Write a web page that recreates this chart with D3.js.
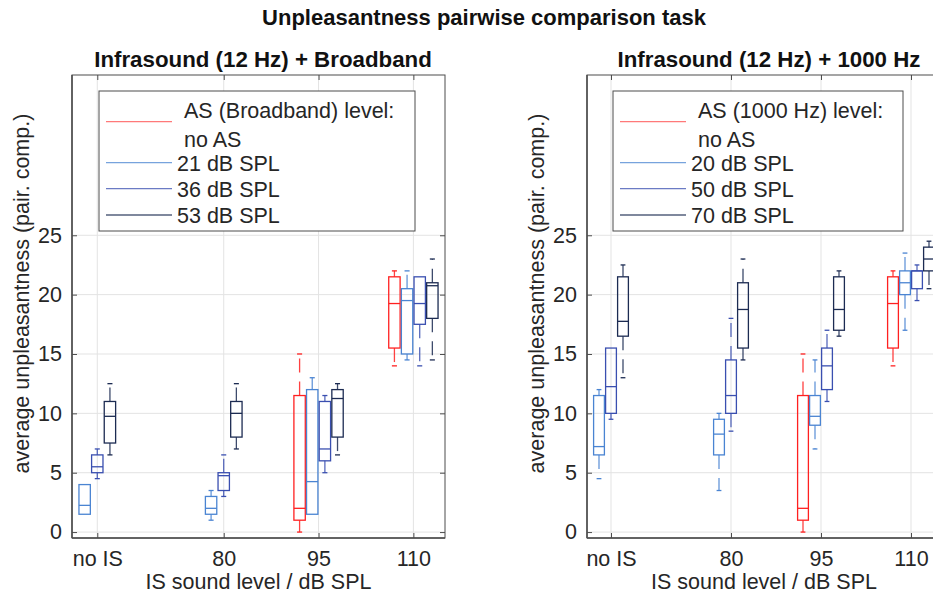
<!DOCTYPE html>
<html>
<head>
<meta charset="utf-8">
<script src="https://cdn.jsdelivr.net/npm/d3@7"></script>
<style>
  body { margin: 0; background: #fff; }
  svg { display: block; font-family: "Liberation Sans", Arial, sans-serif; }
</style>
</head>
<body>
<svg id="chart" width="933" height="597"></svg>
<script>
// categories on the x axis (IS level, "no IS" placed at 60 dB)
var categories = ["no IS", "80", "95", "110"];
var categoryLevels = [60, 80, 95, 110];
var yTicks = [0, 5, 10, 15, 20, 25];

// box stats per category: [min, q1, median, q3, max], null = not measured
var leftNames = ["no AS", "21 dB SPL", "36 dB SPL", "53 dB SPL"];
var leftNoAS = [null, null, [0, 1, 2, 11.5, 15], [14, 15.5, 19.25, 21.5, 22]];
var left21 = [[1.5, 1.5, 2.25, 4, 4], [1, 1.5, 2, 3, 3.5], [1.5, 1.5, 4.25, 12, 13], [14.5, 15, 19.5, 20.5, 22]];
var left36 = [[4.5, 5, 5.5, 6.5, 7], [3, 3.5, 4.75, 5, 6.5], [5, 6, 7, 11, 11.5], [14, 17.5, 19.25, 21.5, 21.5]];
var left53 = [[6.5, 7.5, 9.75, 11, 12.5], [7, 8, 10, 11, 12.5], [6.5, 8, 11.25, 12, 12.5], [14.5, 18, 20.75, 21, 23]];

var rightNames = ["no AS", "20 dB SPL", "50 dB SPL", "70 dB SPL"];
var rightNoAS = [null, null, [0, 1, 2, 11.5, 15], [14, 15.5, 19.25, 21.5, 22]];
var right20 = [[4.5, 6.5, 7.2, 11.5, 12], [3.5, 6.5, 8.25, 9.5, 10], [7, 9, 9.75, 11.5, 14.5], [17, 20, 21, 22, 23.5]];
var right50 = [[9.5, 10, 12.25, 15.5, 15.5], [8.5, 10, 11.5, 14.5, 18], [11, 12, 14, 15.5, 17], [19.5, 20.5, 22, 22, 22.5]];
var right70 = [[13, 16.5, 17.75, 21.5, 22.5], [14.5, 15.5, 18.75, 21, 23], [16.5, 17, 18.75, 21.5, 22], [20.5, 22, 23, 24, 24.5]];

var colors = ["#ff2020", "#4a84d2", "#3a4fb0", "#1c2b52"];
var textColor = "#262626";
var fs = 21.5;

var svg = d3.select("#chart");

svg.append("text")
  .attr("x", 484).attr("y", 25)
  .attr("text-anchor", "middle")
  .attr("font-weight", "bold")
  .attr("font-size", 22)
  .attr("fill", "#111")
  .text("Unpleasantness pairwise comparison task");

function drawPanel(p) {
  var x = d3.scaleLinear().domain([56, 115]).range([p.left, p.right]);
  var y = d3.scaleLinear().domain([-0.5, 38.5]).range([p.bottom, p.top]);
  var g = svg.append("g");

  g.append("defs").append("clipPath").attr("id", p.id)
    .append("rect")
    .attr("x", p.left).attr("y", p.top)
    .attr("width", p.right - p.left).attr("height", p.bottom - p.top);

  // grid
  g.selectAll(".gx").data(categoryLevels).join("line")
    .attr("x1", d => x(d)).attr("x2", d => x(d))
    .attr("y1", p.top).attr("y2", p.bottom)
    .attr("stroke", "#e3e3e3");
  g.selectAll(".gy").data(yTicks).join("line")
    .attr("x1", p.left).attr("x2", p.right)
    .attr("y1", d => y(d)).attr("y2", d => y(d))
    .attr("stroke", "#e3e3e3");

  // boxes
  var plot = g.append("g").attr("clip-path", "url(#" + p.id + ")");
  categories.forEach(function(c, ci) {
    var present = p.series.map((s, si) => ({ stats: s[ci], si: si })).filter(d => d.stats);
    present.forEach(function(d, k) {
      var cx = categoryLevels[ci] + (k - (present.length - 1) / 2) * 2;
      var s = d.stats, col = colors[d.si];
      var b = plot.append("g").attr("stroke", col).attr("fill", "none").attr("stroke-width", 1.3);
      // whiskers, dashed like MATLAB
      if (s[4] > s[3]) {
        b.append("line").attr("x1", x(cx)).attr("x2", x(cx))
          .attr("y1", y(s[3])).attr("y2", y(s[4]))
          .attr("stroke-dasharray", "14,9").attr("stroke-opacity", 0.85);
        b.append("line").attr("x1", x(cx - 0.4)).attr("x2", x(cx + 0.4))
          .attr("y1", y(s[4])).attr("y2", y(s[4]));
      }
      if (s[0] < s[1]) {
        b.append("line").attr("x1", x(cx)).attr("x2", x(cx))
          .attr("y1", y(s[1])).attr("y2", y(s[0]))
          .attr("stroke-dasharray", "14,9").attr("stroke-opacity", 0.85);
        b.append("line").attr("x1", x(cx - 0.4)).attr("x2", x(cx + 0.4))
          .attr("y1", y(s[0])).attr("y2", y(s[0]));
      }
      b.append("rect")
        .attr("x", x(cx - 0.9)).attr("width", x(cx + 0.9) - x(cx - 0.9))
        .attr("y", y(s[3])).attr("height", y(s[1]) - y(s[3]));
      b.append("line").attr("x1", x(cx - 0.9)).attr("x2", x(cx + 0.9))
        .attr("y1", y(s[2])).attr("y2", y(s[2]));
    });
  });

  // axes frame and ticks (inward)
  var axCol = "#4d4d4d";
  g.append("rect")
    .attr("x", p.left).attr("y", p.top)
    .attr("width", p.right - p.left).attr("height", p.bottom - p.top)
    .attr("fill", "none").attr("stroke", axCol).attr("stroke-width", 1);
  g.append("line").attr("x1", p.left).attr("x2", p.left).attr("y1", p.top).attr("y2", p.bottom)
    .attr("stroke", axCol).attr("stroke-width", 1.5);
  g.append("line").attr("x1", p.left).attr("x2", p.right).attr("y1", p.bottom).attr("y2", p.bottom)
    .attr("stroke", axCol).attr("stroke-width", 1.5);

  var yAxis = d3.axisLeft(y).tickValues(yTicks).tickSizeInner(-5).tickSizeOuter(0).tickPadding(10);
  var ya = g.append("g").attr("transform", "translate(" + p.left + ",0)").call(yAxis);
  ya.select(".domain").remove();
  ya.selectAll("line").attr("stroke", axCol);
  ya.selectAll("text").attr("font-size", fs).attr("fill", textColor)
    .attr("font-family", "Liberation Sans, Arial, sans-serif");

  var yAxisR = d3.axisRight(y).tickValues(yTicks).tickSizeInner(-5).tickSizeOuter(0).tickFormat("");
  var yr = g.append("g").attr("transform", "translate(" + p.right + ",0)").call(yAxisR);
  yr.select(".domain").remove();
  yr.selectAll("line").attr("stroke", axCol);

  var xAxis = d3.axisBottom(x).tickValues(categoryLevels)
    .tickFormat((d, i) => categories[i]).tickSizeInner(-5).tickSizeOuter(0).tickPadding(13);
  var xa = g.append("g").attr("transform", "translate(0," + p.bottom + ")").call(xAxis);
  xa.select(".domain").remove();
  xa.selectAll("line").attr("stroke", axCol);
  xa.selectAll("text").attr("font-size", fs).attr("fill", textColor)
    .attr("font-family", "Liberation Sans, Arial, sans-serif");

  var xAxisT = d3.axisTop(x).tickValues(categoryLevels).tickSizeInner(-5).tickSizeOuter(0).tickFormat("");
  var xt = g.append("g").attr("transform", "translate(0," + p.top + ")").call(xAxisT);
  xt.select(".domain").remove();
  xt.selectAll("line").attr("stroke", axCol);

  // labels
  g.append("text")
    .attr("x", p.titleX).attr("y", p.top - 8)
    .attr("text-anchor", "middle").attr("font-weight", "bold")
    .attr("font-size", 22.3).attr("fill", "#111")
    .text(p.title);
  g.append("text")
    .attr("x", (p.left + p.right) / 2).attr("y", 589)
    .attr("text-anchor", "middle").attr("font-size", fs).attr("fill", textColor)
    .text("IS sound level / dB SPL");
  g.append("text")
    .attr("transform", "translate(" + (p.left - 43) + "," + ((p.top + p.bottom) / 2 - 13) + ") rotate(-90)")
    .attr("text-anchor", "middle").attr("font-size", fs).attr("fill", textColor)
    .text("average unpleasantness (pair. comp.)");

  // legend
  var lg = g.append("g");
  lg.append("rect")
    .attr("x", p.legX).attr("y", 91)
    .attr("width", p.legW).attr("height", 140)
    .attr("fill", "#fff").attr("stroke", axCol).attr("stroke-width", 1);
  var rows = [121.7, 162.7, 188.7, 215];
  rows.forEach(function(ry, i) {
    lg.append("line")
      .attr("x1", p.legX + 7).attr("x2", p.legX + 73)
      .attr("y1", ry).attr("y2", ry)
      .attr("stroke", colors[i]).attr("stroke-opacity", i === 0 ? 0.6 : 0.75).attr("stroke-width", 1.3);
  });
  lg.append("text").attr("x", p.legX + 85).attr("y", 118)
    .attr("font-size", fs).attr("fill", textColor).text(p.legendHead);
  lg.append("text").attr("x", p.legX + 85).attr("y", 147)
    .attr("font-size", fs).attr("fill", textColor).text(p.names[0]);
  [1, 2, 3].forEach(function(i) {
    lg.append("text").attr("x", p.legX + 78).attr("y", rows[i] + 8)
      .attr("font-size", fs).attr("fill", textColor).text(p.names[i]);
  });
}

drawPanel({
  id: "clipL", left: 72, right: 445, top: 75, bottom: 538, titleX: 263,
  title: "Infrasound (12 Hz) + Broadband",
  series: [leftNoAS, left21, left36, left53], names: leftNames,
  legendHead: "AS (Broadband) level:", legX: 99, legW: 316
});
drawPanel({
  id: "clipR", left: 587, right: 941, top: 75, bottom: 538, titleX: 769,
  title: "Infrasound (12 Hz) + 1000 Hz",
  series: [rightNoAS, right20, right50, right70], names: rightNames,
  legendHead: "AS (1000 Hz) level:", legX: 613, legW: 290
});
</script>
</body>
</html>
